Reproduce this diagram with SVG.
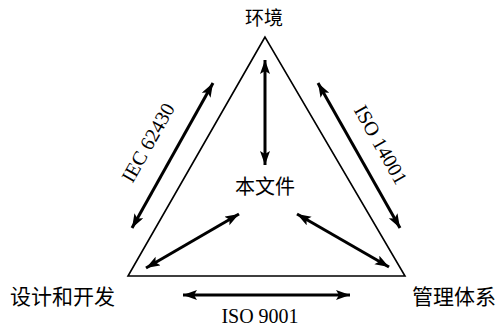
<svg xmlns="http://www.w3.org/2000/svg" width="497" height="331" viewBox="0 0 497 331">
<style>
.cjk{font-family:"Liberation Serif","Noto Sans CJK SC",serif;fill:#000}
.lat{font-family:"Liberation Serif",serif;fill:#000}
.arr{stroke:#000;stroke-width:3;fill:none;marker-start:url(#ah);marker-end:url(#ah)}
</style>
<defs>
<marker id="ah" markerUnits="userSpaceOnUse" markerWidth="16" markerHeight="12" refX="14" refY="5" orient="auto-start-reverse">
<path d="M0,0 L14,5 L0,10 L3,5 z" fill="#000"/>
</marker>
</defs>
<rect width="497" height="331" fill="#fff"/>
<g id="triangle"><polygon points="265,37 128,276 405,276" fill="none" stroke="#000" stroke-width="1.6"/></g>
<g id="node-env"><text class="cjk" x="264" y="25" font-size="19" text-anchor="middle">环境</text></g>
<g id="node-doc"><text class="cjk" x="265" y="194" font-size="20" text-anchor="middle">本文件</text></g>
<g id="node-design"><text class="cjk" x="10" y="304" font-size="21">设计和开发</text></g>
<g id="node-mgmt"><text class="cjk" x="412" y="304" font-size="21">管理体系</text></g>
<g id="connectors">
<line class="arr" x1="265" y1="60" x2="265" y2="165"/>
<line class="arr" x1="213" y1="83" x2="132" y2="228"/>
<line class="arr" x1="318" y1="83" x2="400" y2="228"/>
<line class="arr" x1="239" y1="214" x2="146" y2="268"/>
<line class="arr" x1="297" y1="214" x2="389" y2="267"/>
<line class="arr" x1="183" y1="295" x2="350" y2="295"/>
</g>
<g id="labels">
<text class="lat" x="260" y="323" font-size="20" text-anchor="middle">ISO 9001</text>
<text class="lat" font-size="20" text-anchor="middle" transform="translate(154,146) rotate(-60.6)">IEC 62430</text>
<text class="lat" font-size="20" text-anchor="middle" transform="translate(375,148) rotate(60.6)">ISO 14001</text>
</g>
</svg>
